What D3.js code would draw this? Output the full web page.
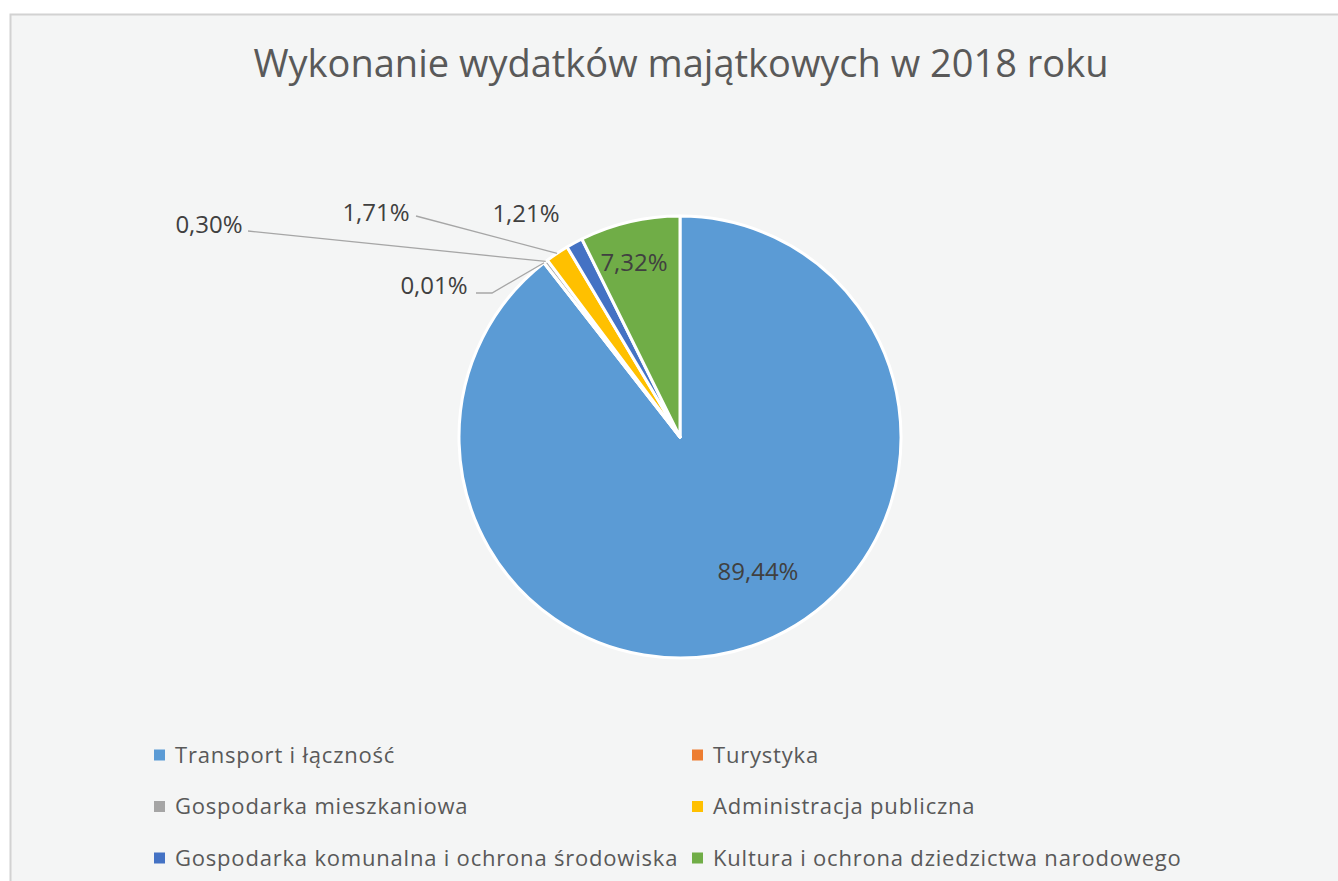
<!DOCTYPE html>
<html><head><meta charset="utf-8">
<script src="https://cdn.jsdelivr.net/npm/d3@7"></script>
<style>
html,body{margin:0;padding:0;background:#fff;}
svg{display:block;}
text{font-family:"Open Sans","Noto Sans",sans-serif;}
</style></head>
<body>
<svg id="chart" width="1338" height="881"></svg>
<script>
const title = "Wykonanie wydatków majątkowych w 2018 roku";
const categories = ["Transport i łączność","Turystyka","Gospodarka mieszkaniowa","Administracja publiczna","Gospodarka komunalna i ochrona środowiska","Kultura i ochrona dziedzictwa narodowego"];
const values = [89.44, 0.01, 0.30, 1.71, 1.21, 7.32];
const valueLabels = ["89,44%","0,01%","0,30%","1,71%","1,21%","7,32%"];
const colors = ["#5b9bd5","#ed7d31","#a5a5a5","#ffc000","#4472c4","#70ad47"];

// layout
const W = 1338, H = 881;
const cx = 680, cy = 437, R = 221;
const labelLayout = [
  {type:"in", x:758, y:571},
  {type:"out", x:434, y:285, leader:[[476,293],[492,293]]},
  {type:"out", x:209, y:224, leader:[[248,231]]},
  {type:"out", x:376, y:212, leader:[[416,216]]},
  {type:"out", x:526, y:213, leader:null},
  {type:"in", x:634, y:262}
];

const svg = d3.select("#chart");
svg.append("rect").attr("x",10.5).attr("y",14.5).attr("width",W+20).attr("height",H+20)
  .attr("fill","#f4f5f5").attr("stroke","#d2d2d2").attr("stroke-width",2);

svg.append("text").attr("x",681).attr("y",77).attr("text-anchor","middle")
  .attr("font-size",38).attr("fill","#595959").text(title);

const pie = d3.pie().sort(null).value(d=>d)(values);
const arc = d3.arc().innerRadius(0).outerRadius(R);
const edge = d3.arc().innerRadius(R).outerRadius(R);
const g = svg.append("g").attr("transform",`translate(${cx},${cy})`);
g.selectAll("path").data(pie).join("path")
  .attr("d",arc).attr("fill",(d,i)=>colors[i])
  .attr("stroke","#fff").attr("stroke-width",3).attr("stroke-linejoin","round");

pie.forEach((d,i)=>{
  const L = labelLayout[i];
  if(L.type==="out" && L.leader){
    const c = edge.centroid(d);
    const pts = L.leader.concat([[cx+c[0], cy+c[1]]]);
    svg.append("path").attr("d",d3.line()(pts)).attr("fill","none")
      .attr("stroke","#a6a6a6").attr("stroke-width",1.3);
  }
});
pie.forEach((d,i)=>{
  const L = labelLayout[i];
  svg.append("text").attr("x",L.x).attr("y",L.y).attr("dy","0.36em")
    .attr("text-anchor","middle").attr("font-size",24).attr("fill","#404040")
    .text(valueLabels[i]);
});

const legCols = [154, 692], legRows = [755, 806.5, 858];
categories.forEach((c,i)=>{
  const x = legCols[i%2], y = legRows[Math.floor(i/2)];
  svg.append("rect").attr("x",x).attr("y",y-5.5).attr("width",11).attr("height",11).attr("fill",colors[i]);
  svg.append("text").attr("x",x+21).attr("y",y).attr("dy","0.36em")
    .attr("font-size",22).attr("letter-spacing",0.8).attr("fill","#595959").text(c);
});
</script>
</body></html>
